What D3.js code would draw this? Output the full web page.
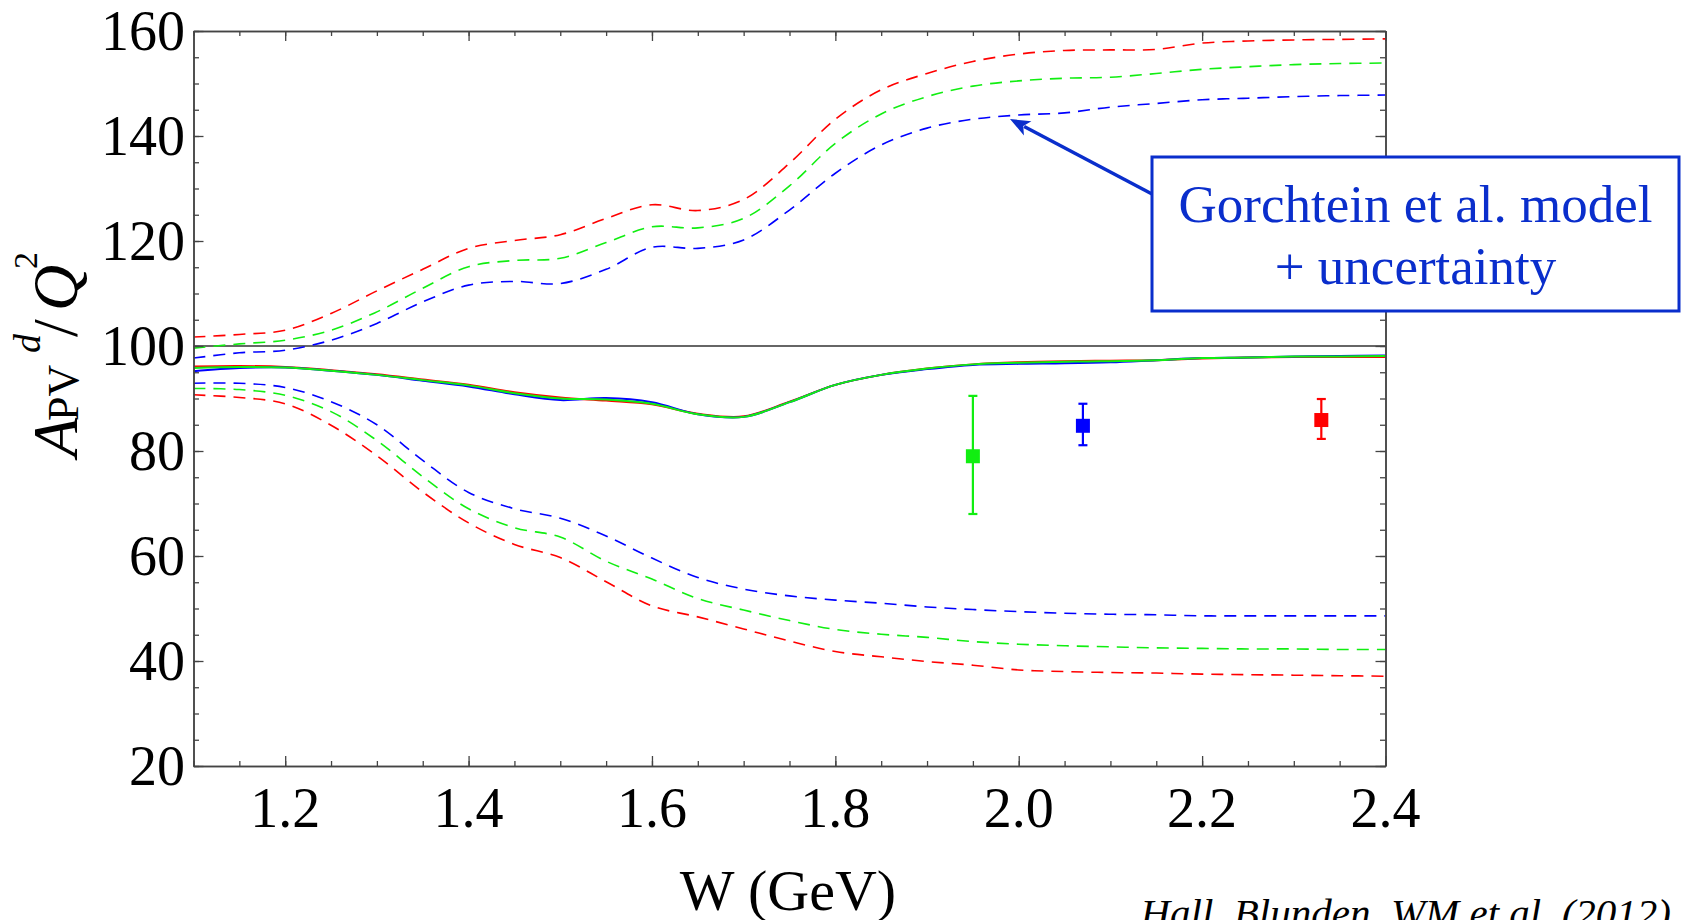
<!DOCTYPE html>
<html>
<head>
<meta charset="utf-8">
<script src="https://cdn.jsdelivr.net/npm/d3@7/dist/d3.min.js"></script>
<style>
  html, body { margin: 0; padding: 0; background: #fff; }
  svg { display: block; }
  text { font-family: "Liberation Serif", "Times New Roman", serif; }
</style>
</head>
<body>
<svg id="chart" width="1695" height="920"></svg>
<script>
// ---------------- DATA ----------------
const W = [1.10,1.15,1.20,1.25,1.30,1.35,1.40,1.45,1.50,1.55,1.60,1.65,1.70,1.75,1.80,1.85,1.90,1.95,2.00,2.05,2.10,2.15,2.20,2.25,2.30,2.35,2.40];

const redUpper   = [101.7,102.2,103.0,106.2,110.5,114.6,118.6,120.1,121.2,124.3,126.9,125.8,127.9,134.8,143.2,148.8,151.9,154.2,155.6,156.3,156.4,156.5,157.7,158.1,158.3,158.4,158.5];
const greenUpper = [99.6,100.4,101.1,103.0,106.5,111.0,115.1,116.3,116.7,119.7,122.7,122.5,124.3,130.5,138.6,144.2,147.5,149.5,150.5,151.0,151.2,151.9,152.7,153.2,153.6,153.8,153.9];
const blueUpper  = [97.7,98.7,99.2,101.1,104.3,108.4,111.6,112.3,111.9,114.6,118.8,118.6,120.2,125.9,132.9,138.3,141.5,143.2,144.0,144.4,145.5,146.2,146.9,147.2,147.5,147.7,147.8];

const redMid   = [96.1,96.2,96.0,95.4,94.6,93.6,92.6,91.2,90.2,89.6,88.9,87.1,86.6,89.4,92.6,94.5,95.7,96.5,96.9,97.1,97.2,97.3,97.6,97.8,97.9,97.9,97.9];
const greenMid = [95.8,96.0,95.9,95.3,94.5,93.5,92.5,91.0,90.0,89.8,89.0,87.0,86.5,89.3,92.6,94.5,95.7,96.5,96.8,97.0,97.1,97.3,97.7,97.8,98.0,98.0,98.1];
const blueMid  = [95.2,95.8,95.9,95.3,94.5,93.4,92.3,90.8,89.7,90.1,89.3,87.0,86.5,89.3,92.6,94.5,95.6,96.4,96.6,96.7,96.9,97.3,97.7,97.8,98.0,98.1,98.2];

const redLower   = [90.7,90.2,89.0,84.9,79.1,72.2,66.3,62.2,59.7,55.1,50.5,48.4,46.1,43.8,41.8,40.8,39.9,39.2,38.3,38.0,37.8,37.7,37.5,37.4,37.3,37.2,37.1];
const greenLower = [91.9,91.7,90.6,87.5,82.0,75.1,69.0,65.4,63.6,59.0,55.6,51.9,49.7,47.7,46.0,45.1,44.5,43.7,43.2,42.9,42.7,42.5,42.4,42.3,42.3,42.2,42.2];
const blueLower  = [92.9,92.9,92.1,89.4,85.0,78.2,72.1,69.0,67.2,63.8,59.6,55.9,53.7,52.4,51.6,51.0,50.3,49.8,49.4,49.1,48.9,48.8,48.6,48.6,48.6,48.6,48.6];

// Data points with error bars (green, blue, red)
const pointW    = [1.95, 2.07, 2.33];
const pointA    = [79.0, 84.8, 85.9];
const pointHigh = [90.5, 89.0, 89.9];
const pointLow  = [68.0, 81.1, 82.3];
const pointColor = ["#11ee11", "#0000ff", "#ff0000"];

const refValue = 100;

const xMajorTicks = [1.2,1.4,1.6,1.8,2.0,2.2,2.4];
const xTickLabels = ["1.2","1.4","1.6","1.8","2.0","2.2","2.4"];
const yMajorTicks = [20,40,60,80,100,120,140,160];
const yTickLabels = ["20","40","60","80","100","120","140","160"];
const yMinorTicks = [20,25,30,35,40,45,50,55,60,65,70,75,80,85,90,95,100,105,110,115,120,125,130,135,140,145,150,155,160];

// ---------------- LAYOUT ----------------
const svg = d3.select("#chart");
const L = 193.5, R = 1385.5, T = 31, B = 766;
const x = d3.scaleLinear().domain([1.1, 2.4]).range([L, R]);
const y = d3.scaleLinear().domain([20, 160]).range([B, T]);

const RED = "#ff0000", GREEN = "#11ee11", BLUE = "#0000ff";
const AXC = "#444";

svg.append("defs").append("clipPath").attr("id", "plotclip")
  .append("rect").attr("x", L).attr("y", T).attr("width", R - L).attr("height", B - T);

const plot = svg.append("g").attr("clip-path", "url(#plotclip)");

// reference line at 100
plot.append("line")
  .attr("x1", x(1.1)).attr("x2", x(2.4))
  .attr("y1", y(refValue)).attr("y2", y(refValue))
  .attr("stroke", "#333").attr("stroke-width", 1.6);

const line = d3.line()
  .x(d => x(d[0])).y(d => y(d[1]))
  .curve(d3.curveCatmullRom.alpha(0.5));

const zipW = arr => W.map((w, i) => [w, arr[i]]);

const dashed = [
  [redUpper, RED], [greenUpper, GREEN], [blueUpper, BLUE],
  [redLower, RED], [greenLower, GREEN], [blueLower, BLUE]
];
dashed.forEach(([arr, c]) => {
  plot.append("path").datum(zipW(arr))
    .attr("d", line).attr("fill", "none")
    .attr("stroke", c).attr("stroke-width", 1.6)
    .attr("stroke-dasharray", "12,8");
});

const solid = [[redMid, RED], [blueMid, BLUE], [greenMid, GREEN]];
solid.forEach(([arr, c]) => {
  plot.append("path").datum(zipW(arr))
    .attr("d", line).attr("fill", "none")
    .attr("stroke", c).attr("stroke-width", 2);
});

// error bars + markers
pointW.forEach((w, i) => {
  const g = svg.append("g");
  const cx = x(w);
  const c = pointColor[i];
  g.append("line").attr("x1", cx).attr("x2", cx)
    .attr("y1", y(pointHigh[i])).attr("y2", y(pointLow[i]))
    .attr("stroke", c).attr("stroke-width", 2.2);
  [pointHigh[i], pointLow[i]].forEach(v => {
    g.append("line").attr("x1", cx - 4.5).attr("x2", cx + 4.5)
      .attr("y1", y(v)).attr("y2", y(v))
      .attr("stroke", c).attr("stroke-width", 2.2);
  });
  g.append("rect").attr("x", cx - 7).attr("y", y(pointA[i]) - 7)
    .attr("width", 14).attr("height", 14).attr("fill", c);
});

// ---------------- AXES ----------------
function styleAxis(g) {
  g.selectAll("path.domain").attr("stroke", AXC).attr("stroke-width", 1.5);
  g.selectAll(".tick line").attr("stroke", AXC).attr("stroke-width", 1.3);
  g.selectAll(".tick text").remove();
}
// bottom
svg.append("g").attr("transform", `translate(0,${B})`)
  .call(d3.axisBottom(x).tickValues(W).tickSize(-5).tickSizeOuter(0).tickFormat("")).call(styleAxis);
svg.append("g").attr("transform", `translate(0,${B})`)
  .call(d3.axisBottom(x).tickValues(xMajorTicks).tickSize(-10).tickSizeOuter(0).tickFormat("")).call(styleAxis);
// top
svg.append("g").attr("transform", `translate(0,${T})`)
  .call(d3.axisTop(x).tickValues(W).tickSize(-5).tickSizeOuter(0).tickFormat("")).call(styleAxis);
svg.append("g").attr("transform", `translate(0,${T})`)
  .call(d3.axisTop(x).tickValues(xMajorTicks).tickSize(-10).tickSizeOuter(0).tickFormat("")).call(styleAxis);
// left
svg.append("g").attr("transform", `translate(${L},0)`)
  .call(d3.axisLeft(y).tickValues(yMinorTicks).tickSize(-5.5).tickSizeOuter(0).tickFormat("")).call(styleAxis);
svg.append("g").attr("transform", `translate(${L},0)`)
  .call(d3.axisLeft(y).tickValues(yMajorTicks).tickSize(-10).tickSizeOuter(0).tickFormat("")).call(styleAxis);
// right
svg.append("g").attr("transform", `translate(${R},0)`)
  .call(d3.axisRight(y).tickValues(yMinorTicks).tickSize(-5.5).tickSizeOuter(0).tickFormat("")).call(styleAxis);
svg.append("g").attr("transform", `translate(${R},0)`)
  .call(d3.axisRight(y).tickValues(yMajorTicks).tickSize(-10).tickSizeOuter(0).tickFormat("")).call(styleAxis);

// tick labels
svg.append("g").selectAll("text").data(xMajorTicks).join("text")
  .attr("x", d => x(d)).attr("y", 827)
  .attr("text-anchor", "middle").attr("font-size", 56).attr("fill", "#000")
  .text((d, i) => xTickLabels[i]);
svg.append("g").selectAll("text").data(yMajorTicks).join("text")
  .attr("x", 185).attr("y", d => y(d) + 19)
  .attr("text-anchor", "end").attr("font-size", 56).attr("fill", "#000")
  .text((d, i) => yTickLabels[i]);

// axis titles
svg.append("text").attr("x", 788).attr("y", 910)
  .attr("text-anchor", "middle").attr("font-size", 58).text("W (GeV)");

const yt = svg.append("text").attr("transform", "translate(77,355) rotate(-90)")
  .attr("font-size", 64);
yt.append("tspan").attr("x", -102).attr("y", 0).attr("font-style", "italic").text("A");
yt.append("tspan").attr("x", -66).attr("y", 1).attr("font-size", 44).text("PV");
yt.append("tspan").attr("x", 2).attr("y", -37).attr("font-size", 38).attr("font-style", "italic").text("d");
yt.append("tspan").attr("x", 18).attr("y", 0).text("/");
yt.append("tspan").attr("x", 44).attr("y", 0).attr("font-style", "italic").text("Q");
yt.append("tspan").attr("x", 86).attr("y", -40).attr("font-size", 34).text("2");

// annotation box + arrow
const BOXC = "#0a2ecc";
const tail = [1152, 194], tip = [1010, 119];
const dx = tip[0] - tail[0], dy = tip[1] - tail[1];
const len = Math.hypot(dx, dy), ux = dx / len, uy = dy / len;
const headL = 20, headW = 8;
const base = [tip[0] - ux * headL, tip[1] - uy * headL];
svg.append("line").attr("x1", tail[0]).attr("y1", tail[1])
  .attr("x2", base[0] + ux * 4).attr("y2", base[1] + uy * 4)
  .attr("stroke", BOXC).attr("stroke-width", 3.5);
svg.append("polygon")
  .attr("points", [
    tip,
    [base[0] - uy * headW, base[1] + ux * headW],
    [base[0] + ux * 5, base[1] + uy * 5],
    [base[0] + uy * headW, base[1] - ux * headW]
  ].map(p => p.join(",")).join(" "))
  .attr("fill", BOXC);

svg.append("rect").attr("x", 1152).attr("y", 157).attr("width", 527).attr("height", 154)
  .attr("fill", "#fff").attr("stroke", BOXC).attr("stroke-width", 3);
svg.append("text").attr("x", 1415.5).attr("y", 222).attr("text-anchor", "middle")
  .attr("font-size", 53).attr("fill", BOXC).text("Gorchtein et al. model");
svg.append("text").attr("x", 1415.5).attr("y", 284).attr("text-anchor", "middle")
  .attr("font-size", 53).attr("fill", BOXC).text("+ uncertainty");

// caption
svg.append("text").attr("x", 1671).attr("y", 927).attr("text-anchor", "end")
  .attr("font-size", 41).attr("font-style", "italic").text("Hall, Blunden, WM et al. (2012)");
</script>
</body>
</html>
